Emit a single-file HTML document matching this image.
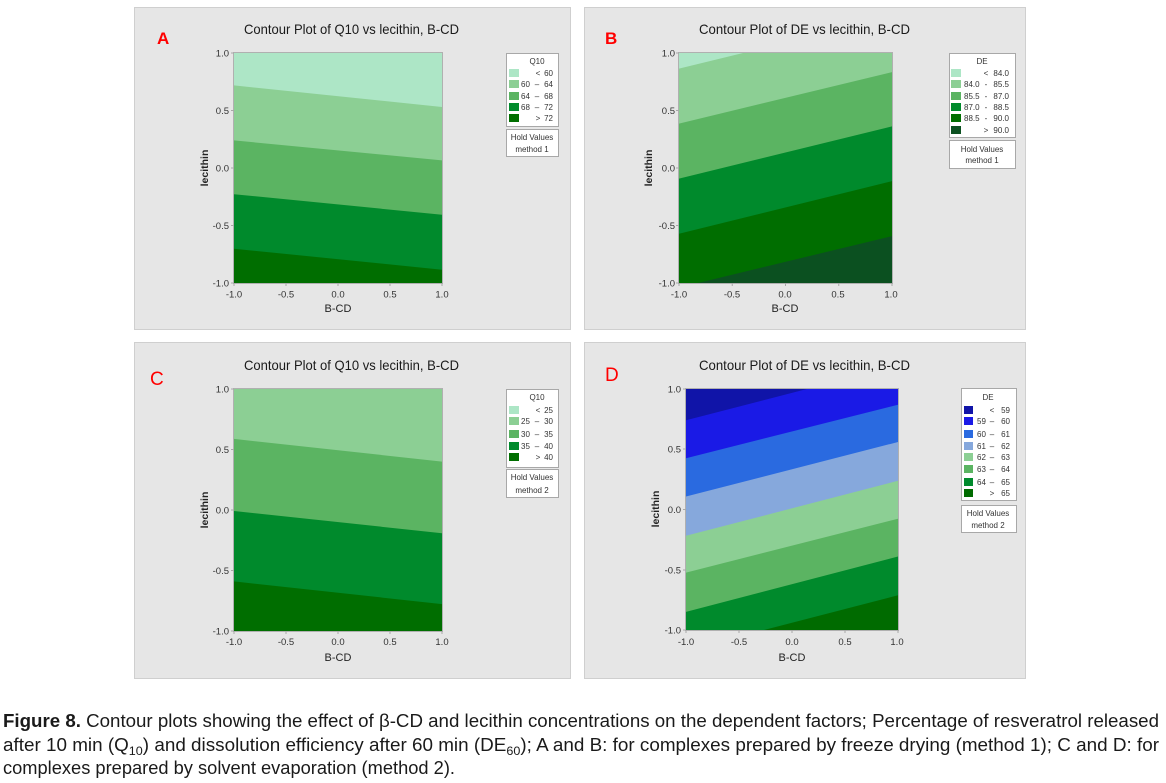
<!DOCTYPE html>
<html><head><meta charset="utf-8"><style>
html,body{margin:0;padding:0;background:#fff;}
svg{display:block;}
text{font-family:"Liberation Sans",Arial,sans-serif;}
</style></head><body>
<svg width="1166" height="783" viewBox="0 0 1166 783" xmlns="http://www.w3.org/2000/svg">
<defs>
<clipPath id="cA"><rect x="234" y="53" width="208" height="230"/></clipPath>
<clipPath id="cB"><rect x="679" y="53" width="213" height="230"/></clipPath>
<clipPath id="cC"><rect x="234" y="389" width="208" height="242"/></clipPath>
<clipPath id="cD"><rect x="686" y="389" width="212" height="241"/></clipPath>
</defs>
<rect width="1166" height="783" fill="#fff"/>

<!-- Panels -->
<rect x="134.5" y="7.5" width="436" height="322" fill="#e6e6e6" stroke="#cfcfcf"/>
<rect x="584.5" y="7.5" width="441" height="322" fill="#e6e6e6" stroke="#cfcfcf"/>
<rect x="134.5" y="342.5" width="436" height="336" fill="#e6e6e6" stroke="#cfcfcf"/>
<rect x="584.5" y="342.5" width="441" height="336" fill="#e6e6e6" stroke="#cfcfcf"/>

<!-- Letters -->
<text x="157" y="44" font-size="17" font-weight="bold" fill="#ff0000">A</text>
<text x="605" y="44" font-size="17" font-weight="bold" fill="#ff0000">B</text>
<text x="150" y="385" font-size="19" fill="#ff0000">C</text>
<text x="605" y="381" font-size="19" fill="#ff0000">D</text>

<!-- Titles -->
<text x="244" y="34" font-size="14" fill="#1a1a1a" textLength="215" lengthAdjust="spacingAndGlyphs">Contour Plot of Q10 vs lecithin, B-CD</text>
<text x="699" y="34" font-size="14" fill="#1a1a1a" textLength="211" lengthAdjust="spacingAndGlyphs">Contour Plot of DE vs lecithin, B-CD</text>
<text x="244" y="370" font-size="14" fill="#1a1a1a" textLength="215" lengthAdjust="spacingAndGlyphs">Contour Plot of Q10 vs lecithin, B-CD</text>
<text x="699" y="370" font-size="14" fill="#1a1a1a" textLength="211" lengthAdjust="spacingAndGlyphs">Contour Plot of DE vs lecithin, B-CD</text>

<!-- Plot A -->
<g clip-path="url(#cA)">
<rect x="234" y="53" width="208" height="230" fill="#006e00"/>
<polygon points="234,-50 442,-50 442,269.7 234,248.7" fill="#008a2c"/>
<polygon points="234,-50 442,-50 442,214.7 234,194.2" fill="#5bb462"/>
<polygon points="234,-50 442,-50 442,160.4 234,140.4" fill="#8ccf94"/>
<polygon points="234,-50 442,-50 442,107 234,85.4" fill="#ade6c6"/>
</g>
<rect x="233.5" y="52.5" width="209" height="231" fill="none" stroke="#b0b0b0"/>

<!-- Plot B -->
<g clip-path="url(#cB)">
<rect x="679" y="53" width="213" height="230" fill="#0b5020"/>
<polygon points="679,-50 892,-50 892,236.1 679,287.6" fill="#006e00"/>
<polygon points="679,-50 892,-50 892,181.1 679,233.8" fill="#008a2c"/>
<polygon points="679,-50 892,-50 892,126.4 679,178.6" fill="#5bb462"/>
<polygon points="679,-50 892,-50 892,72.1 679,123.6" fill="#8ccf94"/>
<polygon points="679,-50 892,-50 892,16.7 679,68.6" fill="#ade6c6"/>
</g>
<rect x="678.5" y="52.5" width="214" height="231" fill="none" stroke="#b0b0b0"/>

<!-- Plot C -->
<g clip-path="url(#cC)">
<rect x="234" y="389" width="208" height="242" fill="#006e00"/>
<polygon points="234,300 442,300 442,604.1 234,581.4" fill="#008a2c"/>
<polygon points="234,300 442,300 442,533.2 234,511" fill="#5bb462"/>
<polygon points="234,300 442,300 442,461.6 234,438.9" fill="#8ccf94"/>
</g>
<rect x="233.5" y="388.5" width="209" height="243" fill="none" stroke="#b0b0b0"/>

<!-- Plot D -->
<g clip-path="url(#cD)">
<rect x="686" y="389" width="212" height="241" fill="#006b00"/>
<polygon points="686,300 898,300 898,595.3 686,650.2" fill="#008a2c"/>
<polygon points="686,300 898,300 898,556.5 686,611.9" fill="#5bb462"/>
<polygon points="686,300 898,300 898,518.7 686,572.6" fill="#8ccf94"/>
<polygon points="686,300 898,300 898,480.8 686,535.8" fill="#86a8dc"/>
<polygon points="686,300 898,300 898,442 686,496.5" fill="#2a6ae0"/>
<polygon points="686,300 898,300 898,404.7 686,458.2" fill="#1a1ae6"/>
<polygon points="686,300 898,300 898,365.4 686,420.3" fill="#1014a8"/>
</g>
<rect x="685.5" y="388.5" width="213" height="242" fill="none" stroke="#b0b0b0"/>

<!-- Tick marks -->
<g stroke="#a8a8a8" stroke-width="1">
<path d="M234,283v3M286,283v3M338,283v3M390,283v3M442,283v3M231,53h3M231,110.5h3M231,168h3M231,225.5h3M231,283h3"/>
<path d="M679,283v3M732.25,283v3M785.5,283v3M838.75,283v3M892,283v3M676,53h3M676,110.5h3M676,168h3M676,225.5h3M676,283h3"/>
<path d="M234,631v3M286,631v3M338,631v3M390,631v3M442,631v3M231,389h3M231,449.5h3M231,510h3M231,570.5h3M231,631h3"/>
<path d="M686,630v3M739,630v3M792,630v3M845,630v3M898,630v3M683,389h3M683,449h3M683,509.5h3M683,570h3M683,630h3"/>
</g>

<!-- Tick labels -->
<g font-size="9.5" fill="#333">
<g text-anchor="end">
<text x="229" y="56.5">1.0</text><text x="229" y="114">0.5</text><text x="229" y="171.5">0.0</text><text x="229" y="229">-0.5</text><text x="229" y="286.5">-1.0</text>
<text x="675" y="56.5">1.0</text><text x="675" y="114">0.5</text><text x="675" y="171.5">0.0</text><text x="675" y="229">-0.5</text><text x="675" y="286.5">-1.0</text>
<text x="229" y="392.5">1.0</text><text x="229" y="453">0.5</text><text x="229" y="513.5">0.0</text><text x="229" y="574">-0.5</text><text x="229" y="634.5">-1.0</text>
<text x="681" y="392.5">1.0</text><text x="681" y="452.5">0.5</text><text x="681" y="513">0.0</text><text x="681" y="573.5">-0.5</text><text x="681" y="633.5">-1.0</text>
</g>
<g text-anchor="middle">
<text x="234" y="297.5">-1.0</text><text x="286" y="297.5">-0.5</text><text x="338" y="297.5">0.0</text><text x="390" y="297.5">0.5</text><text x="442" y="297.5">1.0</text>
<text x="679" y="297.5">-1.0</text><text x="732" y="297.5">-0.5</text><text x="785" y="297.5">0.0</text><text x="838" y="297.5">0.5</text><text x="891" y="297.5">1.0</text>
<text x="234" y="645">-1.0</text><text x="286" y="645">-0.5</text><text x="338" y="645">0.0</text><text x="390" y="645">0.5</text><text x="442" y="645">1.0</text>
<text x="686" y="645">-1.0</text><text x="739" y="645">-0.5</text><text x="792" y="645">0.0</text><text x="845" y="645">0.5</text><text x="897" y="645">1.0</text>
</g>
</g>

<!-- Axis labels -->
<g font-size="11" fill="#222" text-anchor="middle">
<text x="338" y="312">B-CD</text>
<text x="785" y="312">B-CD</text>
<text x="338" y="661">B-CD</text>
<text x="792" y="661">B-CD</text>
</g>
<g font-size="10.5" font-weight="bold" fill="#222" text-anchor="middle">
<text transform="translate(208,168) rotate(-90)">lecithin</text>
<text transform="translate(652,168) rotate(-90)">lecithin</text>
<text transform="translate(208,510) rotate(-90)">lecithin</text>
<text transform="translate(659,509) rotate(-90)">lecithin</text>
</g>

<!-- Legend A -->
<g font-size="8" fill="#333">
<rect x="506.5" y="53.5" width="52" height="73" fill="#fff" stroke="#a8a8a8"/>
<text x="537" y="64" text-anchor="middle">Q10</text>
<rect x="509" y="69" width="10" height="8" fill="#ade6c6"/>
<rect x="509" y="80" width="10" height="8" fill="#8ccf94"/>
<rect x="509" y="92" width="10" height="8" fill="#5bb462"/>
<rect x="509" y="103" width="10" height="8" fill="#008a2c"/>
<rect x="509" y="114" width="10" height="8" fill="#006e00"/>
<text x="538" y="76" text-anchor="middle">&lt;</text><text x="553" y="76" text-anchor="end">60</text>
<text x="521" y="87">60</text><text x="537" y="87" text-anchor="middle">–</text><text x="553" y="87" text-anchor="end">64</text>
<text x="521" y="99">64</text><text x="537" y="99" text-anchor="middle">–</text><text x="553" y="99" text-anchor="end">68</text>
<text x="521" y="110">68</text><text x="537" y="110" text-anchor="middle">–</text><text x="553" y="110" text-anchor="end">72</text>
<text x="538" y="121" text-anchor="middle">&gt;</text><text x="553" y="121" text-anchor="end">72</text>
<rect x="506.5" y="129.5" width="52" height="27" fill="#fff" stroke="#a8a8a8"/>
<text x="532" y="140" text-anchor="middle">Hold Values</text>
<text x="532" y="152" text-anchor="middle">method  1</text>
</g>

<!-- Legend B -->
<g font-size="8" fill="#333">
<rect x="949.5" y="53.5" width="66" height="84" fill="#fff" stroke="#a8a8a8"/>
<text x="982" y="64" text-anchor="middle">DE</text>
<rect x="951" y="69" width="10" height="8" fill="#ade6c6"/>
<rect x="951" y="80" width="10" height="8" fill="#8ccf94"/>
<rect x="951" y="92" width="10" height="8" fill="#5bb462"/>
<rect x="951" y="103" width="10" height="8" fill="#008a2c"/>
<rect x="951" y="114" width="10" height="8" fill="#006e00"/>
<rect x="951" y="126" width="10" height="8" fill="#0b5020"/>
<text x="986" y="76" text-anchor="middle">&lt;</text><text x="1009" y="76" text-anchor="end">84.0</text>
<text x="964" y="87">84.0</text><text x="986" y="87" text-anchor="middle">-</text><text x="1009" y="87" text-anchor="end">85.5</text>
<text x="964" y="99">85.5</text><text x="986" y="99" text-anchor="middle">-</text><text x="1009" y="99" text-anchor="end">87.0</text>
<text x="964" y="110">87.0</text><text x="986" y="110" text-anchor="middle">-</text><text x="1009" y="110" text-anchor="end">88.5</text>
<text x="964" y="121">88.5</text><text x="986" y="121" text-anchor="middle">-</text><text x="1009" y="121" text-anchor="end">90.0</text>
<text x="986" y="133" text-anchor="middle">&gt;</text><text x="1009" y="133" text-anchor="end">90.0</text>
<rect x="949.5" y="140.5" width="66" height="28" fill="#fff" stroke="#a8a8a8"/>
<text x="982" y="152" text-anchor="middle">Hold Values</text>
<text x="982" y="163" text-anchor="middle">method  1</text>
</g>

<!-- Legend C -->
<g font-size="8" fill="#333">
<rect x="506.5" y="389.5" width="52" height="78" fill="#fff" stroke="#a8a8a8"/>
<text x="537" y="400" text-anchor="middle">Q10</text>
<rect x="509" y="406" width="10" height="8" fill="#ade6c6"/>
<rect x="509" y="417" width="10" height="8" fill="#8ccf94"/>
<rect x="509" y="430" width="10" height="8" fill="#5bb462"/>
<rect x="509" y="442" width="10" height="8" fill="#008a2c"/>
<rect x="509" y="453" width="10" height="8" fill="#006e00"/>
<text x="538" y="413" text-anchor="middle">&lt;</text><text x="553" y="413" text-anchor="end">25</text>
<text x="521" y="424">25</text><text x="537" y="424" text-anchor="middle">–</text><text x="553" y="424" text-anchor="end">30</text>
<text x="521" y="437">30</text><text x="537" y="437" text-anchor="middle">–</text><text x="553" y="437" text-anchor="end">35</text>
<text x="521" y="449">35</text><text x="537" y="449" text-anchor="middle">–</text><text x="553" y="449" text-anchor="end">40</text>
<text x="538" y="460" text-anchor="middle">&gt;</text><text x="553" y="460" text-anchor="end">40</text>
<rect x="506.5" y="469.5" width="52" height="28" fill="#fff" stroke="#a8a8a8"/>
<text x="532" y="480" text-anchor="middle">Hold Values</text>
<text x="532" y="493" text-anchor="middle">method  2</text>
</g>

<!-- Legend D -->
<g font-size="8" fill="#333">
<rect x="961.5" y="388.5" width="55" height="112" fill="#fff" stroke="#a8a8a8"/>
<text x="988" y="400" text-anchor="middle">DE</text>
<rect x="964" y="406" width="9" height="8" fill="#1014a8"/>
<rect x="964" y="417" width="9" height="8" fill="#1a1ae6"/>
<rect x="964" y="430" width="9" height="8" fill="#2a6ae0"/>
<rect x="964" y="442" width="9" height="8" fill="#86a8dc"/>
<rect x="964" y="453" width="9" height="8" fill="#8ccf94"/>
<rect x="964" y="465" width="9" height="8" fill="#5bb462"/>
<rect x="964" y="478" width="9" height="8" fill="#008a2c"/>
<rect x="964" y="489" width="9" height="8" fill="#006b00"/>
<text x="992" y="413" text-anchor="middle">&lt;</text><text x="1010" y="413" text-anchor="end">59</text>
<text x="977" y="424">59</text><text x="992" y="424" text-anchor="middle">–</text><text x="1010" y="424" text-anchor="end">60</text>
<text x="977" y="437">60</text><text x="992" y="437" text-anchor="middle">–</text><text x="1010" y="437" text-anchor="end">61</text>
<text x="977" y="449">61</text><text x="992" y="449" text-anchor="middle">–</text><text x="1010" y="449" text-anchor="end">62</text>
<text x="977" y="460">62</text><text x="992" y="460" text-anchor="middle">–</text><text x="1010" y="460" text-anchor="end">63</text>
<text x="977" y="472">63</text><text x="992" y="472" text-anchor="middle">–</text><text x="1010" y="472" text-anchor="end">64</text>
<text x="977" y="485">64</text><text x="992" y="485" text-anchor="middle">–</text><text x="1010" y="485" text-anchor="end">65</text>
<text x="992" y="496" text-anchor="middle">&gt;</text><text x="1010" y="496" text-anchor="end">65</text>
<rect x="961.5" y="505.5" width="55" height="27" fill="#fff" stroke="#a8a8a8"/>
<text x="988" y="516" text-anchor="middle">Hold Values</text>
<text x="988" y="528" text-anchor="middle">method  2</text>
</g>

<!-- Caption -->
<g font-size="18" fill="#1a1a1a">
<text x="3" y="727" textLength="1156" lengthAdjust="spacingAndGlyphs"><tspan font-weight="bold">Figure 8.</tspan> Contour plots showing the effect of β-CD and lecithin concentrations on the dependent factors; Percentage of resveratrol released</text>
<text x="3" y="751" textLength="1156" lengthAdjust="spacingAndGlyphs">after 10 min (Q<tspan font-size="12" dy="4">10</tspan><tspan dy="-4">) and dissolution efficiency after 60 min (DE</tspan><tspan font-size="12" dy="4">60</tspan><tspan dy="-4">); A and B: for complexes prepared by freeze drying (method 1); C and D: for</tspan></text>
<text x="3" y="774" textLength="452" lengthAdjust="spacingAndGlyphs">complexes prepared by solvent evaporation (method 2).</text>
</g>
</svg>
</body></html>
